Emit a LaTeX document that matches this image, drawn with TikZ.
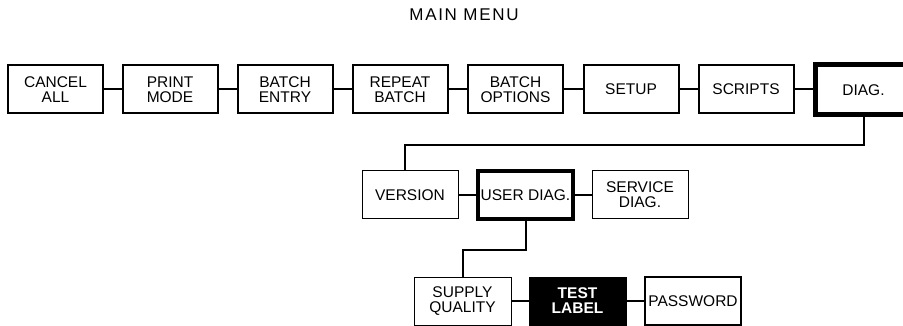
\documentclass[tikz,border=0pt]{standalone}
\usepackage{fontspec}
\setmainfont{Liberation Sans}
\newfontfamily\titlefont[LetterSpace=10]{Liberation Sans}
\begin{document}
\begin{tikzpicture}[x=1pt,y=-1pt,
  menubox/.style={draw, line width=2pt, minimum width=95pt, minimum height=48pt, inner sep=0pt,
    align=center, font=\fontsize{15.5}{15}\selectfont},
  thinbox/.style={menubox, line width=1pt, minimum width=96pt},
  heavybox/.style={menubox, line width=4.5pt},
  blackbox/.style={menubox, fill=black, text=white, line width=1pt, minimum width=97pt, font=\fontsize{15.5}{15}\selectfont\bfseries},
  link/.style={line width=2pt},
  thinlink/.style={line width=1.6pt}]
\clip (0,0) rectangle (903,326);
\fill[white] (0,0) rectangle (903,326);
\node[font=\fontsize{17}{17}\selectfont\titlefont] (title) at (464,15) {MAIN MENU};
% top row
\node[menubox] (cancel) at (55.5,89.5) {CANCEL\\ALL};
\node[menubox] (print) at (170,89.5) {PRINT\\MODE};
\node[menubox] (bentry) at (285,89.5) {BATCH\\ENTRY};
\node[menubox] (repeat) at (400,89.5) {REPEAT\\BATCH};
\node[menubox] (bopt) at (515.5,89.5) {BATCH\\OPTIONS};
\node[menubox] (setup) at (631,89.5) {SETUP};
\node[menubox] (scripts) at (746,89.5) {SCRIPTS};
\node[menubox, line width=5pt, minimum width=96pt, minimum height=50pt] (diag) at (863.5,90) {DIAG.};
\foreach \a/\b in {cancel/print, print/bentry, bentry/repeat, repeat/bopt, bopt/setup, setup/scripts}
  \draw[link] (\a.east) -- (\b.west);
\draw[link] (scripts.east) -- (scripts.east -| diag.west);
% middle row
\node[thinbox] (version) at (410,195) {VERSION};
\node[heavybox] (userdiag) at (525.5,195) {USER DIAG.};
\node[thinbox] (service) at (640,195) {SERVICE\\DIAG.};
\draw[thinlink] (version.east) -- (userdiag.west);
\draw[thinlink] (userdiag.east) -- (service.west);
\coordinate (vtop) at ([xshift=-5pt]version.north);
\draw[link] (diag.south) -- ++(0,27.5) -| (vtop);
% bottom row
\node[thinbox, minimum width=97pt] (supply) at (462.5,301) {SUPPLY\\QUALITY};
\node[blackbox] (test) at (577.5,301) {TEST\\LABEL};
\node[menubox, minimum width=96pt] (password) at (693,301) {PASSWORD};
\draw[link] (supply.east) -- (test.west);
\draw[link] (test.east) -- (password.west);
\draw[link] (userdiag.south) -- ++(0,29) -| (supply.north);
\end{tikzpicture}
\end{document}
